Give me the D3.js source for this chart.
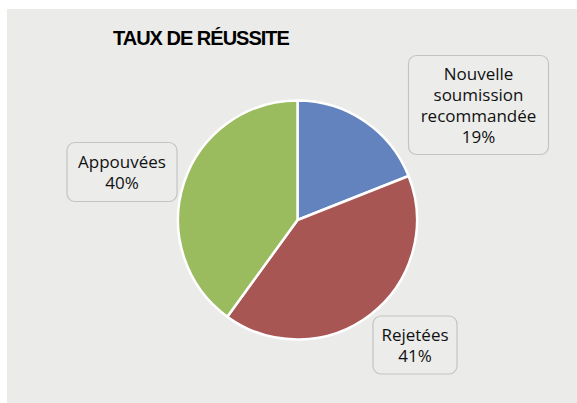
<!DOCTYPE html>
<html>
<head>
<meta charset="utf-8">
<script src="https://cdn.jsdelivr.net/npm/d3@7"></script>
<style>
  body { margin: 0; background: #fff; }
  text { font-family: "Open Sans", sans-serif; }
</style>
</head>
<body>
<script>
// data
var categories = ["Nouvelle soumission recommandée", "Rejetées", "Appouvées"];
var labelLines = [["Nouvelle", "soumission", "recommandée"], ["Rejetées"], ["Appouvées"]];
var values = [19, 41, 40];
var colors = ["#6283be", "#a85654", "#9bbb5f"];
var title = "TAUX DE RÉUSSITE";

// layout
var w = 577, h = 403;
var cx = 297.5, cy = 220, r = 119.5;
// label box centres, relative to pie centre
var labelPos = [
  {dx: 181, dy: -115, bw: 140, bh: 99},
  {dx: 117.5, dy: 125, bw: 84, bh: 58},
  {dx: -175.5, dy: -48, bw: 110, bh: 59}
];
var lineH = 21;

var svg = d3.select("body").append("svg")
    .attr("width", w)
    .attr("height", h);

svg.append("rect")
    .attr("x", 7).attr("y", 9)
    .attr("width", w - 7).attr("height", h - 9)
    .attr("fill", "#ebebe9");

svg.append("text")
    .attr("x", 113).attr("y", 45)
    .style("font-family", "'Liberation Sans', Arial, sans-serif")
    .style("font-weight", "bold")
    .style("font-size", "20px")
    .style("letter-spacing", "-1px")
    .attr("fill", "#000")
    .text(title);

var pie = d3.pie().sort(null).value(function(d) { return d; });
var arc = d3.arc().innerRadius(0).outerRadius(r);
var arcs = pie(values);

var g = svg.append("g").attr("transform", "translate(" + cx + "," + cy + ")");

g.selectAll("path.slice")
    .data(arcs)
  .enter().append("path")
    .attr("class", "slice")
    .attr("d", arc)
    .attr("fill", function(d, i) { return colors[i]; })
    .attr("stroke", "#fff")
    .attr("stroke-width", 2.5)
    .attr("stroke-linejoin", "round");

var fmt = d3.format(".0%");
var total = d3.sum(values);

var labels = g.selectAll("g.lab")
    .data(arcs)
  .enter().append("g")
    .attr("class", "lab")
    .attr("transform", function(d, i) { return "translate(" + labelPos[i].dx + "," + labelPos[i].dy + ")"; });

labels.append("rect")
    .attr("x", function(d, i) { return -labelPos[i].bw / 2; })
    .attr("y", function(d, i) { return -labelPos[i].bh / 2; })
    .attr("width", function(d, i) { return labelPos[i].bw; })
    .attr("height", function(d, i) { return labelPos[i].bh; })
    .attr("rx", 8).attr("ry", 8)
    .attr("fill", "#ececeb")
    .attr("stroke", "#c4c4c4")
    .attr("stroke-width", 1.2);

labels.append("text")
    .attr("text-anchor", "middle")
    .style("font-size", "17px")
    .attr("fill", "#111")
    .each(function(d, i) {
      var lines = labelLines[i].concat([fmt(d.value / total)]);
      var y0 = -(lines.length - 1) * lineH / 2 + 6;
      var t = d3.select(this);
      lines.forEach(function(l, k) {
        t.append("tspan").attr("x", 0).attr("y", y0 + k * lineH).text(l);
      });
    });
</script>
</body>
</html>
